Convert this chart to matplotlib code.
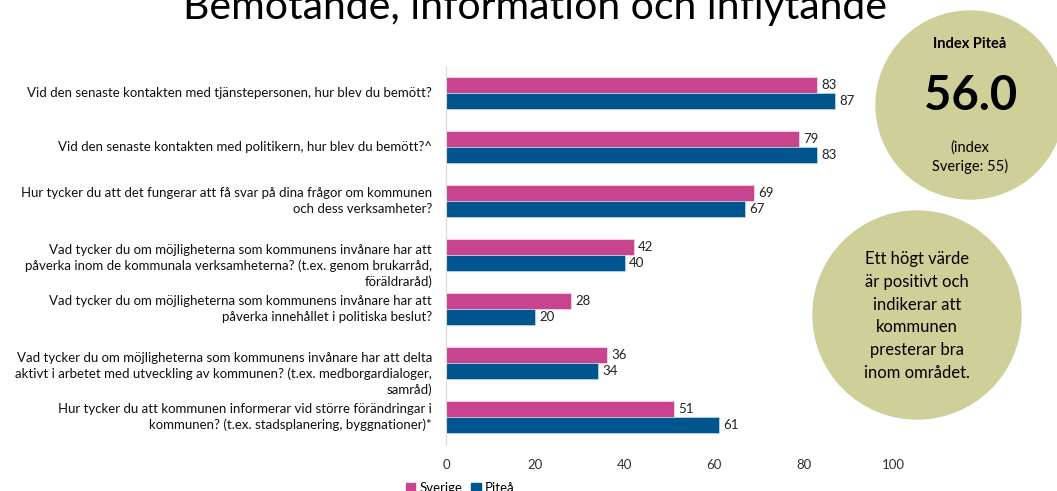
import numpy as np
import matplotlib.pyplot as plt
from matplotlib.patches import Circle, Patch

plt.rcParams['font.family'] = ['Lato', 'DejaVu Sans']

# data
fragor = [
    "Vid den senaste kontakten med tjänstepersonen, hur blev du bemött?",
    "Vid den senaste kontakten med politikern, hur blev du bemött?^",
    "Hur tycker du att det fungerar att få svar på dina frågor om kommunen\noch dess verksamheter?",
    "Vad tycker du om möjligheterna som kommunens invånare har att\npåverka inom de kommunala verksamheterna? (t.ex. genom brukarråd,\nföräldraråd)",
    "Vad tycker du om möjligheterna som kommunens invånare har att\npåverka innehållet i politiska beslut?",
    "Vad tycker du om möjligheterna som kommunens invånare har att delta\naktivt i arbetet med utveckling av kommunen? (t.ex. medborgardialoger,\nsamråd)",
    "Hur tycker du att kommunen informerar vid större förändringar i\nkommunen? (t.ex. stadsplanering, byggnationer)*",
]
sverige = [83, 79, 69, 42, 28, 36, 51]
pitea = [87, 83, 67, 40, 20, 34, 61]
serier = ["Sverige", "Piteå"]
xticks = [0, 20, 40, 60, 80, 100]

rosa = '#C8448E'
bla = '#00558E'
oliv = '#CFCF9A'

fig = plt.figure(figsize=(10.57, 4.91), dpi=100)

# cirklar i ett bakgrundslager (pixelkoordinater)
ov = fig.add_axes([0, 0, 1, 1])
ov.set_xlim(0, 1057)
ov.set_ylim(491, 0)
ov.axis('off')
ov.add_patch(Circle((970, 105), 94, color=oliv))
ov.add_patch(Circle((917, 315), 104, color=oliv))
ov.text(970, 44, "Index Piteå", ha='center', va='center', fontsize=10.5, fontweight='bold')
ov.text(971, 96, "56.0", ha='center', va='center', fontsize=34, fontweight='bold')
ov.text(970, 157, "(index\nSverige: 55)", ha='center', va='center', fontsize=10.5, linespacing=1.35)
ov.text(917, 316, "Ett högt värde\när positivt och\nindikerar att\nkommunen\npresterar bra\ninom området.",
        ha='center', va='center', fontsize=12, linespacing=1.52)

ax = fig.add_axes([446/1057, 1-444/491, (893-446)/1057, (444-66)/491])
ax.set_facecolor('none')

y = np.arange(len(fragor))
h = 0.29
b1 = ax.barh(y - h/2, sverige, height=h, color=rosa, edgecolor='#F3D9E8', linewidth=0.6)
b2 = ax.barh(y + h/2, pitea, height=h, color=bla, edgecolor='#B9D0E2', linewidth=0.6)
ax.bar_label(b1, padding=3, fontsize=9.5, color='#222222')
ax.bar_label(b2, padding=3, fontsize=9.5, color='#222222')

ax.set_xlim(0, 100)
ax.set_ylim(len(fragor) - 0.5, -0.5)
ax.set_xticks(xticks)
ax.set_yticks([])
ax.tick_params(axis='x', length=0, pad=11, labelsize=9.5, labelcolor='#333333')
for s in ['top', 'right', 'bottom']:
    ax.spines[s].set_visible(False)
ax.spines['left'].set_color('#D9D9D9')

# frågetexter, treradiga sitter lite lägre
for i, t in enumerate(fragor):
    dy = -8 if t.count('\n') == 2 else 0
    ax.annotate(t, xy=(0, i), xycoords=ax.get_yaxis_transform(),
                xytext=(-10, dy), textcoords='offset points',
                ha='right', va='center', fontsize=9.5, linespacing=1.33,
                multialignment='right', color='#111111')

fig.text(0.506, 1 - 19/491, "Bemötande, information och inflytande",
         ha='center', va='baseline', fontsize=29.5, color='black')

fig.legend(handles=[Patch(color=rosa), Patch(color=bla)], labels=serier,
           loc='center left', bbox_to_anchor=(394/1057, 1 - 488/491),
           ncol=2, frameon=False, fontsize=9.5, handlelength=0.7,
           handleheight=0.7, handletextpad=0.3, columnspacing=0.7)

fig.savefig('out.png', dpi=100)
